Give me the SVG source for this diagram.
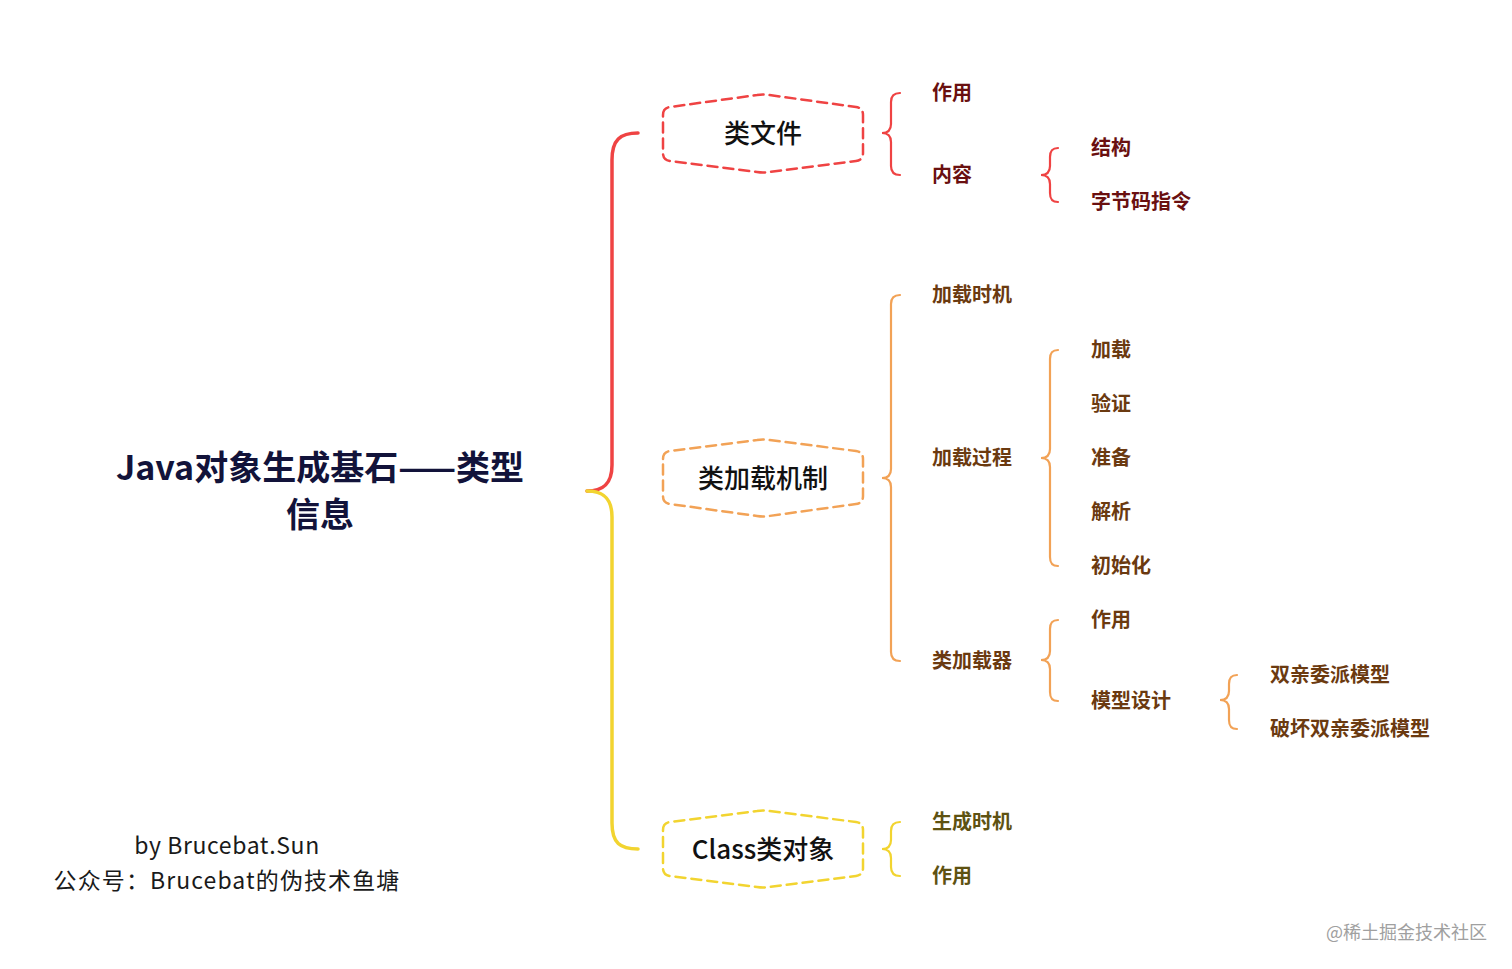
<svg xmlns="http://www.w3.org/2000/svg" width="1512" height="969" viewBox="0 0 1512 969">
<style>
text{font-family:"Noto Sans CJK SC","Noto Sans",sans-serif;dominant-baseline:central}
.root{font-size:34px;font-weight:700;fill:#12133a;text-anchor:middle}
.node{font-size:26px;font-weight:500;fill:#111;text-anchor:middle}
.hex{fill:#fff;stroke-width:2.5;stroke-dasharray:10 6;stroke-linecap:round}
.br{fill:none;stroke-width:2.2;stroke-linecap:round}
.main{fill:none;stroke-width:3.5;stroke-linecap:round}
.t{font-size:20px;font-weight:700}
.tr{fill:#6a1010}
.to{fill:#6b3a10}
.ty{fill:#5e5212}
.red{stroke:#ef4343}
.org{stroke:#f2a256}
.yel{stroke:#f2d430}
.foot{font-size:23px;fill:#1a1a1a;text-anchor:middle;letter-spacing:0.6px}
.foot2{letter-spacing:1.1px}
.wm{font-size:18px;fill:#a0a0a0}
</style>
<rect width="1512" height="969" fill="#fff"/>
<g id="connectors">
<path class="main red" d="M638,133 C620,133 612,140 612,160 L612,465 C612,485 602,491 587,491"/>
<path class="main yel" d="M587,491 C602,491 612,497 612,517 L612,823 C612,843 620,849 638,849"/>
<path class="br red" d="M900,93 C894,93 891,96 891,102 L891,124 C891,130 888,133 882,133 C888,133 891,136 891,142 L891,166 C891,172 894,175 900,175"/>
<path class="br red" d="M1058,148 C1052,148 1050,151 1050,157 L1050,166 C1050,172 1047,175 1041,175 C1047,175 1050,178 1050,184 L1050,193 C1050,199 1052,202 1058,202"/>
<path class="br org" d="M900,295 C894,295 891,298 891,304 L891,469 C891,475 888,478 882,478 C888,478 891,481 891,487 L891,652 C891,658 894,661 900,661"/>
<path class="br org" d="M1058,350 C1052,350 1050,353 1050,359 L1050,449 C1050,455 1047,458 1041,458 C1047,458 1050,461 1050,467 L1050,557 C1050,563 1052,566 1058,566"/>
<path class="br org" d="M1058,620 C1052,620 1050,623 1050,629 L1050,651 C1050,657 1047,660 1041,660 C1047,660 1050,663 1050,669 L1050,692 C1050,698 1052,701 1058,701"/>
<path class="br org" d="M1237,675 C1231,675 1229,678 1229,684 L1229,691 C1229,697 1226,700 1220,700 C1226,700 1229,703 1229,709 L1229,720 C1229,726 1231,729 1237,729"/>
<path class="br yel" d="M900,822 C894,822 891,825 891,831 L891,840 C891,846 888,849 882,849 C888,849 891,852 891,858 L891,867 C891,873 894,876 900,876"/>
</g>
<g id="root">
<text class="root" x="320" y="465">Java对象生成基石——类型</text>
<text class="root" x="320" y="512">信息</text>
</g>
<g id="node-classfile">
<path class="hex red" d="M663,115 Q663,108 670,107 L757,95 Q763,94 769,95 L856,107 Q863,108 863,115 L863,153 Q863,160 856,161 L769,172 Q763,173 757,172 L670,161 Q663,160 663,153 Z"/>
<text class="node" x="763" y="131">类文件</text>
</g>
<g id="node-classloading">
<path class="hex org" d="M663,459 Q663,452 670,451 L757,440 Q763,439 769,440 L856,451 Q863,452 863,459 L863,496 Q863,503 856,504 L769,516 Q763,517 757,516 L670,504 Q663,503 663,496 Z"/>
<text class="node" x="763" y="476">类加载机制</text>
</g>
<g id="node-classobject">
<path class="hex yel" d="M663,830 Q663,823 670,822 L757,811 Q763,810 769,811 L856,822 Q863,823 863,830 L863,868 Q863,875 856,876 L769,887 Q763,888 757,887 L670,876 Q663,875 663,868 Z"/>
<text class="node" x="763" y="847">Class类对象</text>
</g>
<g id="leaf-red">
<text class="t tr" x="932" y="91">作用</text>
<text class="t tr" x="932" y="173">内容</text>
<text class="t tr" x="1091" y="146">结构</text>
<text class="t tr" x="1091" y="200">字节码指令</text>
</g>
<g id="leaf-orange">
<text class="t to" x="932" y="293">加载时机</text>
<text class="t to" x="932" y="456">加载过程</text>
<text class="t to" x="932" y="659">类加载器</text>
<text class="t to" x="1091" y="348">加载</text>
<text class="t to" x="1091" y="402">验证</text>
<text class="t to" x="1091" y="456">准备</text>
<text class="t to" x="1091" y="510">解析</text>
<text class="t to" x="1091" y="564">初始化</text>
<text class="t to" x="1091" y="618">作用</text>
<text class="t to" x="1091" y="699">模型设计</text>
<text class="t to" x="1270" y="673">双亲委派模型</text>
<text class="t to" x="1270" y="727">破坏双亲委派模型</text>
</g>
<g id="leaf-yellow">
<text class="t ty" x="932" y="820">生成时机</text>
<text class="t ty" x="932" y="874">作用</text>
</g>
<g id="footer">
<text class="foot" x="227" y="844">by Brucebat.Sun</text>
<text class="foot foot2" x="227" y="879">公众号：Brucebat的伪技术鱼塘</text>
</g>
<text class="wm" x="1326" y="931">@稀土掘金技术社区</text>
</svg>
